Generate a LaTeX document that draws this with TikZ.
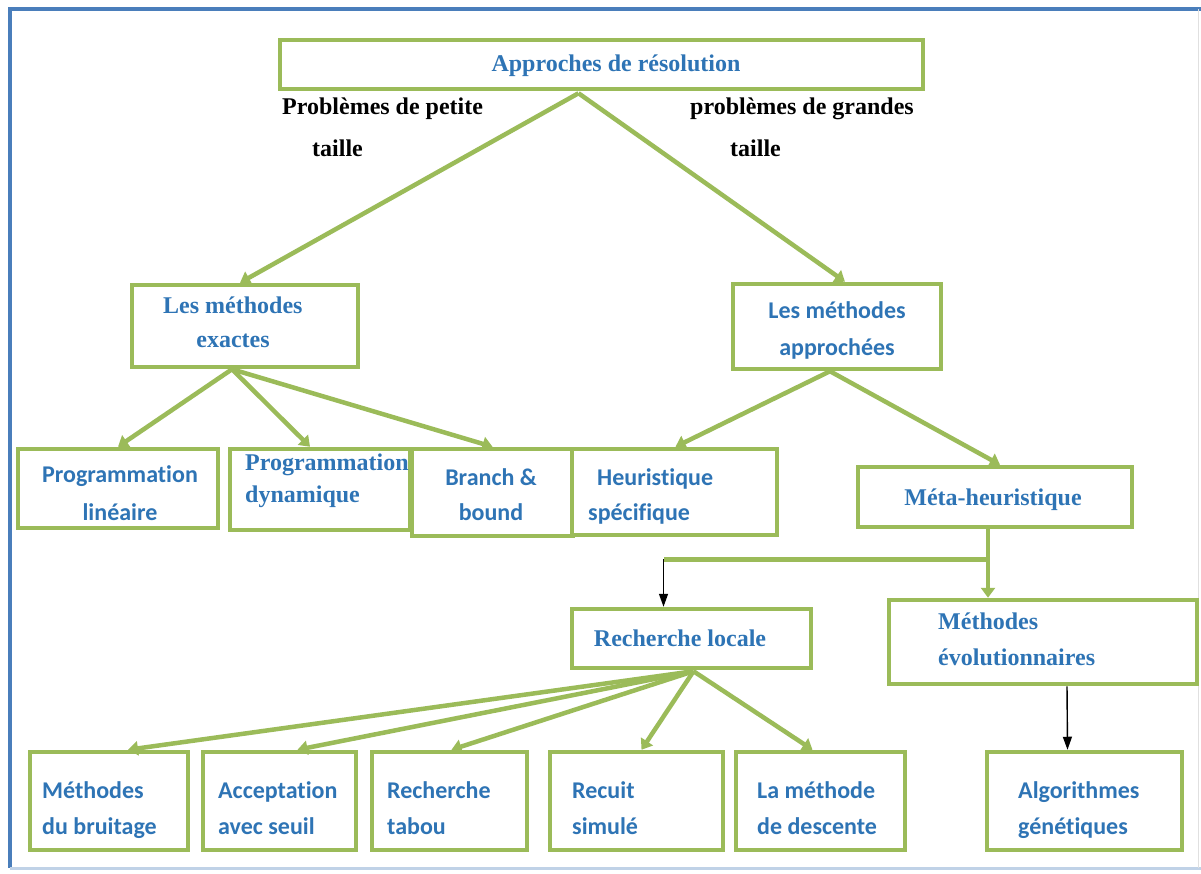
\documentclass[tikz,border=0pt]{standalone}
\usepackage{fontspec}
\setmainfont{Liberation Serif}
\newfontfamily\calib[Ligatures={NoCommon}]{Carlito}
\usetikzlibrary{arrows.meta,fit,calc}
\definecolor{vert}{HTML}{9BBB59}
\definecolor{bleu}{HTML}{2E74B5}
\definecolor{cadre}{HTML}{4A7EBB}
\begin{document}
\begin{tikzpicture}[x=1pt,y=-1pt,
  box/.style={draw=vert, line width=4.5pt, inner sep=0pt, fill=white},
  garr/.style={draw=vert, line width=4.5pt, -{Triangle[length=10pt,width=14pt]}},
  barr/.style={draw=black, line width=1.4pt, -{Triangle[length=13pt,width=9pt]}},
  gline/.style={draw=vert, line width=4.5pt},
  serif/.style={text=bleu, inner sep=0pt, font=\fontsize{24}{28}\selectfont\bfseries},
  sans/.style={text=bleu, inner sep=0pt, font=\calib\fontsize{24}{28}\selectfont\bfseries},
  noir/.style={text=black, inner sep=0pt, font=\fontsize{24}{28}\selectfont\bfseries},
]
\useasboundingbox (0,0) rectangle (1201,874);
\fill[white] (0,0) rectangle (1201,874);
\draw[cadre, line width=3.5pt] (1201,9) -- (10,9) -- (10,868);
\draw[cadre!35, line width=3pt] (10,868) -- (1201,868);
\draw[black!12, line width=1pt] (1198,9) -- (1198,868);

% boxes
\node[box, fit={(280,40) (923,89)}] (a) {};
\node[box, fit={(132,285) (358,367)}] (e) {};
\node[box, fit={(733,284) (941,369)}] (ap) {};
\node[box, fit={(18,449) (218,528)}] (pl) {};
\node[box, fit={(230,449) (410,530)}] (pd) {};
\node[box, fit={(412,449) (573,536)}] (bb) {};
\node[box, fit={(572,449) (777,535)}] (hs) {};
\node[box, fit={(858,467) (1132,527)}] (mh) {};
\node[box, fit={(572,609) (811,668)}] (rl) {};
\node[box, fit={(889,600) (1197,684)}] (me) {};
\node[box, fit={(30,752) (188,850)}] (mb) {};
\node[box, fit={(203,752) (356,850)}] (as) {};
\node[box, fit={(372,752) (527,850)}] (rt) {};
\node[box, fit={(550,752) (723,850)}] (rs) {};
\node[box, fit={(736,752) (905,850)}] (md) {};
\node[box, fit={(987,752) (1182,850)}] (ag) {};

% texts
\node[serif, anchor=base] (at) at (616,72) {Approches de résolution};
\node[noir, anchor=base west] (lp1) at (282,115) {Problèmes de petite};
\node[noir, anchor=base west] (lp2) at (312,157) {taille};
\node[noir, anchor=base west] (rp1) at (690,115) {problèmes de grandes};
\node[noir, anchor=base west] (rp2) at (730,157) {taille};
\node[serif, anchor=base west] (et1) at (163,313) {Les méthodes};
\node[serif, anchor=base] (et2) at (233,347) {exactes};
\node[sans, anchor=base] (apt1) at (837,319) {Les méthodes};
\node[sans, anchor=base] (apt2) at (837,355) {approchées};
\node[sans, anchor=base] (plt1) at (120,482) {Programmation};
\node[sans, anchor=base] (plt2) at (120,520) {linéaire};
\node[serif, anchor=base west] (pdt1) at (245,470) {Programmation};
\node[serif, anchor=base west] (pdt2) at (245,502) {dynamique};
\node[sans, anchor=base] (bbt1) at (491,485) {Branch \&};
\node[sans, anchor=base] (bbt2) at (491,520) {bound};
\node[sans, anchor=base west] (hst1) at (597,485) {Heuristique};
\node[sans, anchor=base west] (hst2) at (588,520) {spécifique};
\node[serif, anchor=base] (mht) at (993,505) {Méta-heuristique};
\node[serif, anchor=base] (rlt) at (680,646) {Recherche locale};
\node[serif, anchor=base west] (met1) at (938,629) {Méthodes};
\node[serif, anchor=base west] (met2) at (938,665) {évolutionnaires};
\node[sans, anchor=base west] (mbt1) at (42,798) {Méthodes};
\node[sans, anchor=base west] (mbt2) at (42,834) {du bruitage};
\node[sans, anchor=base west] (ast1) at (218,798) {Acceptation};
\node[sans, anchor=base west] (ast2) at (218,834) {avec seuil};
\node[sans, anchor=base west] (rtt1) at (387,798) {Recherche};
\node[sans, anchor=base west] (rtt2) at (387,834) {tabou};
\node[sans, anchor=base west] (rst1) at (572,798) {Recuit};
\node[sans, anchor=base west] (rst2) at (572,834) {simulé};
\node[sans, anchor=base west] (mdt1) at (757,798) {La méthode};
\node[sans, anchor=base west] (mdt2) at (757,834) {de descente};
\node[sans, anchor=base west] (agt1) at (1018,798) {Algorithmes};
\node[sans, anchor=base west] (agt2) at (1018,834) {génétiques};

% connectors
\draw[garr] ($(a.south)+(-23,2)$) -- ($(e.north)+(-5,0)$);
\draw[garr] ($(a.south)+(-23,2)$) -- ($(ap.north)+(8,0)$);
\draw[garr] ($(e.south)+(-13,0)$) -- (pl.north);
\draw[garr] ($(e.south)+(-13,0)$) -- ($(pd.north)+(-10,0)$);
\draw[garr] ($(e.south)+(-13,0)$) -- (bb.north);
\draw[garr] ($(ap.south)+(-7,0)$) -- ($(hs.north)+(1,0)$);
\draw[garr] ($(ap.south)+(-7,0)$) -- ($(mh.north)+(5,0)$);
\coordinate (j1) at ($(mh.south)+(-7,30)$);
\coordinate (j2) at ($(rl.north)+(-28,-50)$);
\draw[gline] ($(mh.south)+(-7,0)$) -- (j1) -- (j2 |- j1);
\draw[barr] (j2 |- j1) -- ($(rl.north)+(-28,0)$);
\draw[garr] (j1) -- (j1 |- me.north);
\coordinate (o) at ($(rl.south)+(2,1)$);
\draw[garr] (o) -- ($(mb.north)+(19,0)$);
\draw[garr] (o) -- ($(as.north)+(18,0)$);
\draw[garr] (o) -- ($(rt.north)+(2,0)$);
\draw[garr] (o) -- ($(rs.north)+(5,0)$);
\draw[garr] (o) -- ($(md.north)+(-8,0)$);
\draw[barr] ($(me.south)+(24,0)$) -- ($(ag.north)+(-17,0)$);
\end{tikzpicture}
\end{document}
